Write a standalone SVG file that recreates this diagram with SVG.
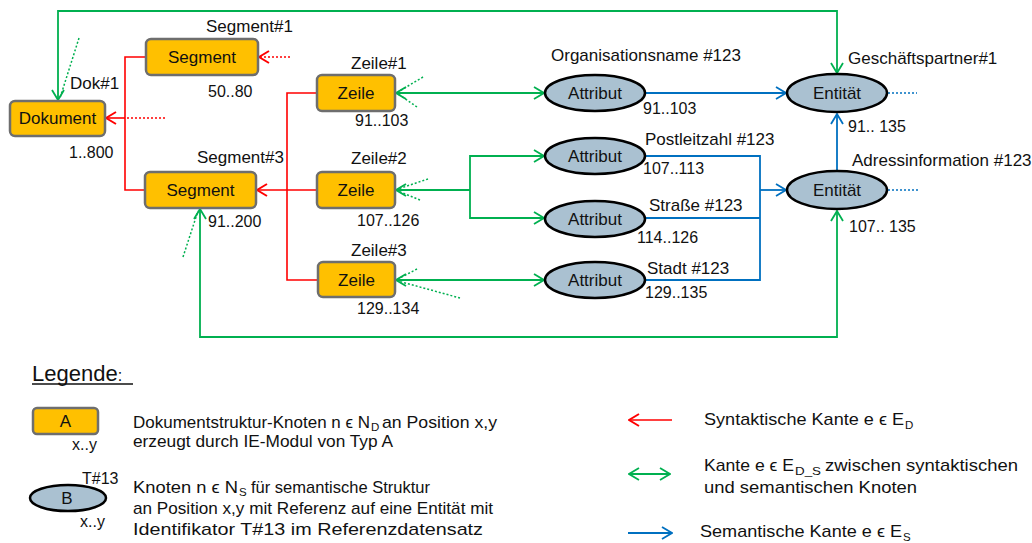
<svg xmlns="http://www.w3.org/2000/svg" width="1032" height="543" viewBox="0 0 1032 543">
  <style>
    text { font-family: "Liberation Sans", Arial, sans-serif; fill: #111; }
    .lbl { font-size: 17px; }
    .num { font-size: 16px; }
    .nt { font-size: 17px; text-anchor: middle; }
    .box { fill: #FFC000; stroke: #6E6E6E; stroke-width: 2.5; }
    .ell { fill: #AAC1D1; stroke: #000; stroke-width: 2.5; }
    .red { fill: none; stroke: #FF0000; stroke-width: 1.6; }
    .grn { fill: none; stroke: #00B050; stroke-width: 1.8; }
    .blu { fill: none; stroke: #0070C0; stroke-width: 1.8; }
    .dot { stroke-dasharray: 2 2; stroke-width: 1.5; }
    .sub { font-size: 11.5px; }
  </style>
  <defs>
    <marker id="ah-red" viewBox="0 0 12 14" refX="11" refY="7" markerWidth="12" markerHeight="14" orient="auto-start-reverse" markerUnits="userSpaceOnUse">
      <path d="M1,1 L11,7 L1,13" fill="none" stroke="#FF0000" stroke-width="2"/>
    </marker>
    <marker id="ah-grn" viewBox="0 0 12 14" refX="11" refY="7" markerWidth="12" markerHeight="14" orient="auto-start-reverse" markerUnits="userSpaceOnUse">
      <path d="M1,1 L11,7 L1,13" fill="none" stroke="#00B050" stroke-width="1.8"/>
    </marker>
    <marker id="ah-blu" viewBox="0 0 12 14" refX="11" refY="7" markerWidth="12" markerHeight="14" orient="auto-start-reverse" markerUnits="userSpaceOnUse">
      <path d="M1,1 L11,7 L1,13" fill="none" stroke="#0070C0" stroke-width="1.8"/>
    </marker>
  </defs>

  <rect width="1032" height="543" fill="#fff"/>

  <!-- connectors -->
  <g id="connectors">
    <!-- syntactic edges -->
    <path class="red" d="M146,57 H125 V190 H145"/>
    <path class="red" d="M125,118 H106" stroke-width="2" marker-end="url(#ah-red)"/>
    <path class="red dot" d="M127,118 H167"/>
    <path class="red dot" d="M290,57 H259" marker-end="url(#ah-red)"/>
    <path class="red" d="M317,93 H287 V280 H318"/>
    <path class="red" d="M317,190 H257" stroke-width="2" marker-end="url(#ah-red)"/>

    <!-- syntactic-semantic edges -->
    <path class="grn" d="M837,73 V11 H58 V100" marker-start="url(#ah-grn)" marker-end="url(#ah-grn)"/>
    <path class="grn dot" d="M79,38 L60,98"/>
    <path class="grn" d="M396,93 H544" marker-start="url(#ah-grn)" marker-end="url(#ah-grn)"/>
    <path class="grn dot" d="M423,77 L398,92"/>
    <path class="grn dot" d="M417,107 L398,94"/>
    <path class="grn" d="M470,190 H396" marker-end="url(#ah-grn)"/>
    <path class="grn" d="M544,156 H470 V218 H544" marker-start="url(#ah-grn)" marker-end="url(#ah-grn)"/>
    <path class="grn dot" d="M428,179 L398,189"/>
    <path class="grn dot" d="M420,200 L398,191"/>
    <path class="grn" d="M396,280 H544" marker-start="url(#ah-grn)" marker-end="url(#ah-grn)"/>
    <path class="grn dot" d="M417,269 L398,279"/>
    <path class="grn dot" d="M460,298 L398,281"/>
    <path class="grn" d="M200,209 V337 H837 V211" marker-start="url(#ah-grn)" marker-end="url(#ah-grn)"/>
    <path class="grn dot" d="M183,257 L198,211"/>

    <!-- semantic edges -->
    <path class="blu" d="M645,93 H786" marker-end="url(#ah-blu)"/>
    <path class="blu" d="M645,156 H760 V280 H645"/>
    <path class="blu" d="M645,218 H760"/>
    <path class="blu" d="M760,190 H786" marker-end="url(#ah-blu)"/>
    <path class="blu" d="M837,170 V114" marker-end="url(#ah-blu)"/>
    <path class="blu dot" d="M888,93 H917"/>
    <path class="blu dot" d="M888,190 H920"/>
  </g>

  <!-- document structure nodes -->
  <g id="dokument">
    <rect class="box" x="10" y="101" width="95" height="35" rx="5"/>
    <text class="nt" x="57.5" y="124">Dokument</text>
    <text class="lbl" x="70" y="89">Dok#1</text>
    <text class="num" x="69" y="158">1..800</text>
  </g>
  <g id="segment1">
    <rect class="box" x="146" y="39" width="112" height="36" rx="5"/>
    <text class="nt" x="202" y="63">Segment</text>
    <text class="lbl" x="206" y="32">Segment#1</text>
    <text class="num" x="208" y="97">50..80</text>
  </g>
  <g id="segment3">
    <rect class="box" x="145" y="172" width="111" height="36" rx="5"/>
    <text class="nt" x="200.5" y="196">Segment</text>
    <text class="lbl" x="197" y="163">Segment#3</text>
    <text class="num" x="208" y="227">91..200</text>
  </g>
  <g id="zeile1">
    <rect class="box" x="317" y="75" width="78" height="36" rx="5"/>
    <text class="nt" x="356" y="99">Zeile</text>
    <text class="lbl" x="351" y="69">Zeile#1</text>
    <text class="num" x="355" y="126">91..103</text>
  </g>
  <g id="zeile2">
    <rect class="box" x="317" y="172" width="78" height="36" rx="5"/>
    <text class="nt" x="356" y="196">Zeile</text>
    <text class="lbl" x="351" y="164">Zeile#2</text>
    <text class="num" x="357" y="226">107..126</text>
  </g>
  <g id="zeile3">
    <rect class="box" x="318" y="262" width="77" height="35" rx="5"/>
    <text class="nt" x="356.5" y="286">Zeile</text>
    <text class="lbl" x="351" y="256">Zeile#3</text>
    <text class="num" x="357" y="314">129..134</text>
  </g>

  <!-- semantic nodes -->
  <g id="attribut1">
    <ellipse class="ell" cx="595" cy="93" rx="50" ry="18"/>
    <text class="nt" x="595" y="99">Attribut</text>
    <text class="lbl" x="551" y="61">Organisationsname #123</text>
    <text class="num" x="643" y="114">91..103</text>
  </g>
  <g id="attribut2">
    <ellipse class="ell" cx="595" cy="156" rx="50" ry="18"/>
    <text class="nt" x="595" y="162">Attribut</text>
    <text class="lbl" x="645" y="145">Postleitzahl #123</text>
    <text class="num" x="643" y="174">107..113</text>
  </g>
  <g id="attribut3">
    <ellipse class="ell" cx="595" cy="219" rx="50" ry="18"/>
    <text class="nt" x="595" y="225">Attribut</text>
    <text class="lbl" x="649" y="211">Straße #123</text>
    <text class="num" x="637" y="243">114..126</text>
  </g>
  <g id="attribut4">
    <ellipse class="ell" cx="595" cy="280" rx="50" ry="18"/>
    <text class="nt" x="595" y="286">Attribut</text>
    <text class="lbl" x="647" y="274">Stadt #123</text>
    <text class="num" x="645" y="298">129..135</text>
  </g>
  <g id="entitaet1">
    <ellipse class="ell" cx="837" cy="93" rx="50" ry="19"/>
    <text class="nt" x="837" y="99">Entität</text>
    <text class="lbl" x="848" y="64">Geschäftspartner#1</text>
    <text class="num" x="848" y="132">91.. 135</text>
  </g>
  <g id="entitaet2">
    <ellipse class="ell" cx="837" cy="190" rx="50" ry="19"/>
    <text class="nt" x="837" y="196">Entität</text>
    <text class="lbl" x="852" y="166">Adressinformation #123</text>
    <text class="num" x="849" y="232">107.. 135</text>
  </g>

  <!-- legend -->
  <g id="legende">
    <text x="32" y="381" font-size="22">Legende<tspan font-size="16">:</tspan></text>
    <line x1="32" y1="384" x2="133" y2="384" stroke="#111" stroke-width="1.5"/>

    <rect class="box" x="33" y="408" width="65" height="26" rx="4" stroke-width="2"/>
    <text class="nt" x="65.5" y="427">A</text>
    <text class="num" x="72" y="450">x..y</text>
    <text class="lbl" x="133" y="428" textLength="237" lengthAdjust="spacingAndGlyphs">Dokumentstruktur-Knoten n ϵ N</text>
    <text class="lbl sub" x="371" y="431">D</text>
    <text class="lbl" x="382" y="428" textLength="115" lengthAdjust="spacingAndGlyphs">an Position x,y</text>
    <text class="lbl" x="133" y="447" textLength="260" lengthAdjust="spacingAndGlyphs">erzeugt durch IE-Modul von Typ A</text>

    <ellipse class="ell" cx="68" cy="498" rx="38" ry="13"/>
    <text class="nt" x="67" y="504">B</text>
    <text class="num" x="82" y="484">T#13</text>
    <text class="num" x="80" y="527">x..y</text>
    <text class="lbl" x="133" y="493" textLength="105" lengthAdjust="spacingAndGlyphs">Knoten n ϵ N</text>
    <text class="lbl sub" x="239" y="496">S</text>
    <text class="lbl" x="251" y="493" textLength="179" lengthAdjust="spacingAndGlyphs">für semantische Struktur</text>
    <text class="lbl" x="133" y="514" textLength="360" lengthAdjust="spacingAndGlyphs">an Position x,y mit Referenz auf eine Entität mit</text>
    <text class="lbl" x="133" y="535" textLength="350" lengthAdjust="spacingAndGlyphs">Identifikator T#13 im Referenzdatensatz</text>

    <path class="red" d="M672,420 H629" stroke-width="2" marker-end="url(#ah-red)"/>
    <text class="lbl" x="704" y="425" textLength="200" lengthAdjust="spacingAndGlyphs">Syntaktische Kante e ϵ E</text>
    <text class="lbl sub" x="905" y="429">D</text>

    <path class="grn" d="M629,474 H670" stroke-width="2" marker-start="url(#ah-grn)" marker-end="url(#ah-grn)"/>
    <text class="lbl" x="704" y="471" textLength="90" lengthAdjust="spacingAndGlyphs">Kante e ϵ E</text>
    <text class="lbl sub" x="795" y="475" textLength="26" lengthAdjust="spacingAndGlyphs">D_S</text>
    <text class="lbl" x="825" y="471" textLength="193" lengthAdjust="spacingAndGlyphs">zwischen syntaktischen</text>
    <text class="lbl" x="704" y="493" textLength="213" lengthAdjust="spacingAndGlyphs">und semantischen Knoten</text>

    <path class="blu" d="M628,533 H672" stroke-width="2" marker-end="url(#ah-blu)"/>
    <text class="lbl" x="700" y="537" textLength="202" lengthAdjust="spacingAndGlyphs">Semantische Kante e ϵ E</text>
    <text class="lbl sub" x="903" y="541">S</text>
  </g>
</svg>
